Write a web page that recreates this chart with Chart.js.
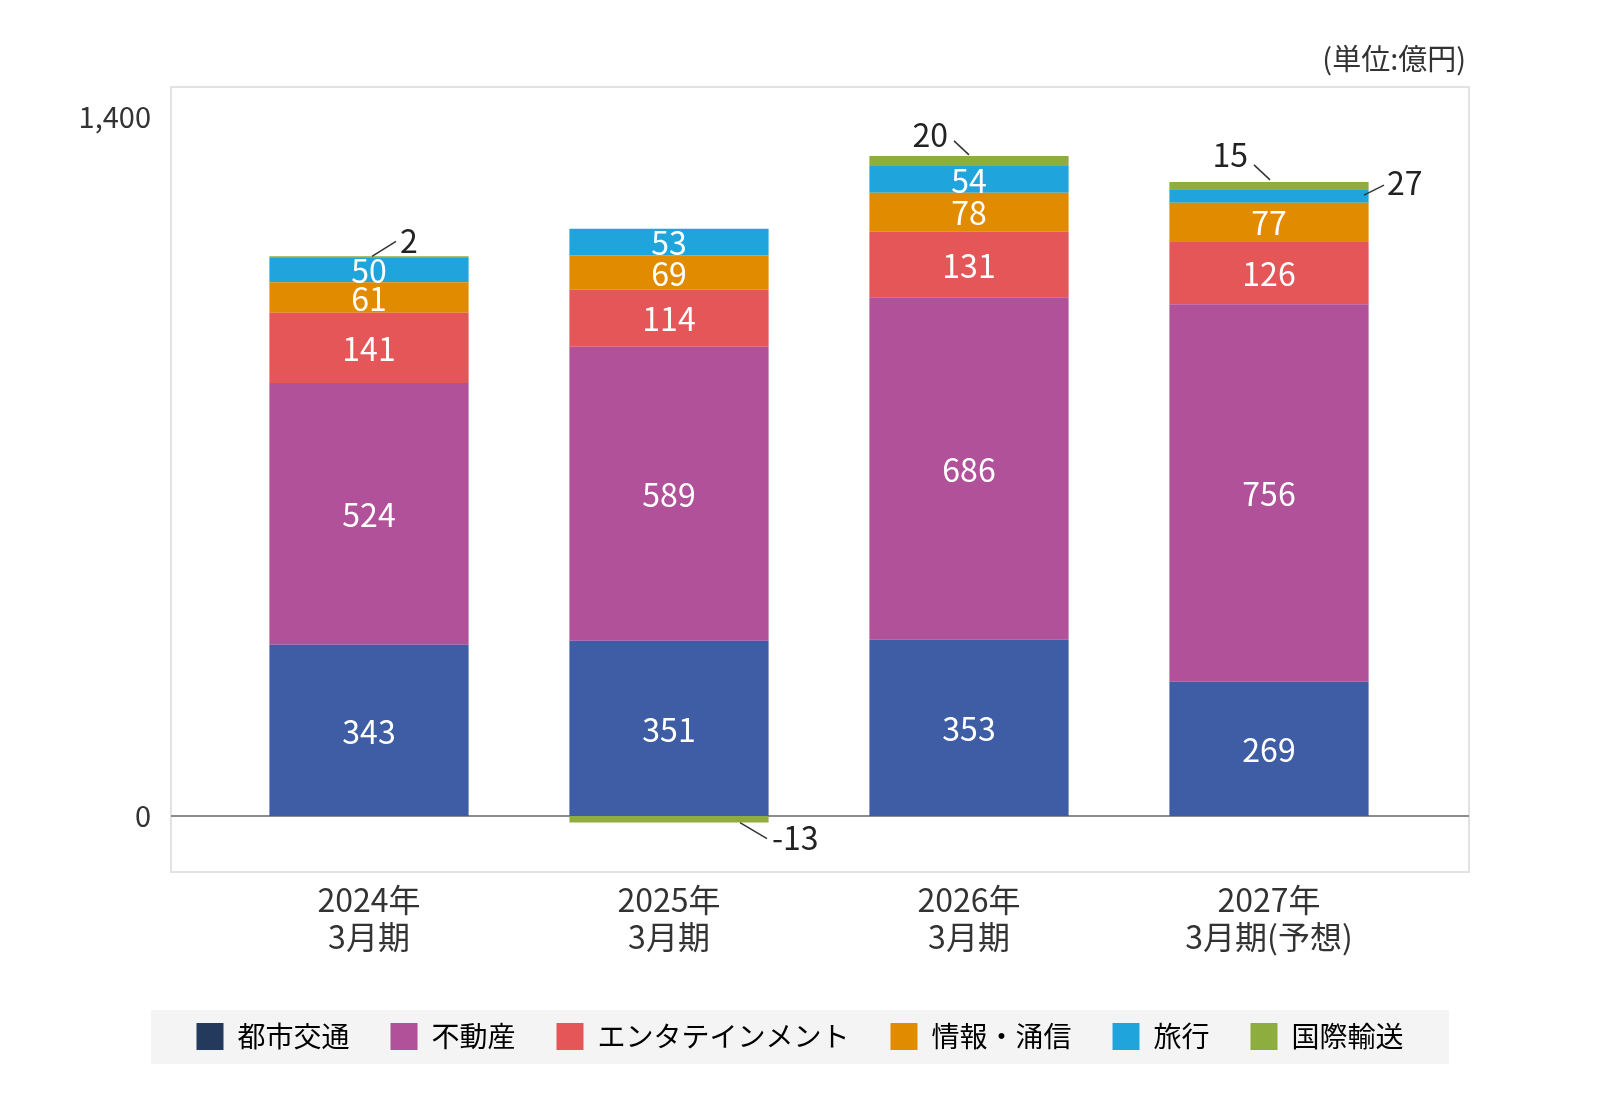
<!DOCTYPE html>
<html lang="ja">
<head>
<meta charset="utf-8">
<title>セグメント別営業利益</title>
<script src="https://cdn.jsdelivr.net/npm/chart.js@4/dist/chart.umd.min.js"></script>
<style>
  html, body { margin: 0; padding: 0; background: #fff; }
  #wrap { width: 1600px; height: 1114px; position: relative; }
</style>
</head>
<body>
<div id="wrap"><canvas id="chart"></canvas></div>
<script>
const FONT = '"Noto Sans CJK JP", "Noto Sans", sans-serif';

// ---------- Data ----------
const categories = [["2024年", "3月期"], ["2025年", "3月期"], ["2026年", "3月期"], ["2027年", "3月期(予想)"]];
const segmentNames = ["都市交通", "不動産", "エンタテインメント", "情報・涌信", "旅行", "国際輸送"];
const toshiKotsu = [343, 351, 353, 269];
const fudosan = [524, 589, 686, 756];
const entertainment = [141, 114, 131, 126];
const johoTsushin = [61, 69, 78, 77];
const ryoko = [50, 53, 54, 27];
const kokusaiYuso = [2, -13, 20, 15];
const yTicks = [0, 1400];
const unitLabel = "(単位:億円)";

// ---------- Styles ----------
const barColors = ["#3e5da5", "#b05199", "#e45657", "#e08b00", "#1fa5dc", "#8dad3f"];
const legendColors = ["#233a5c", "#b05199", "#e45657", "#e08b00", "#1fa5dc", "#8dad3f"];
const textColor = "#333333";

// labels placed outside the bar, with a leader line (offsets in px from the segment anchor)
const callouts = [
  { ds: 5, i: 0, anchor: "top", line: [3, 0, 27, -15], text: [31, -15, "left"] },
  { ds: 5, i: 1, anchor: "bottom", line: [71, 0, 98, 16], text: [103, 15, "left"] },
  { ds: 5, i: 2, anchor: "top", line: [-15, -15, 0, -1], text: [-21, -21, "right"] },
  { ds: 5, i: 3, anchor: "top", line: [-15, -17, 1, -2], text: [-21, -27, "right"] },
  { ds: 4, i: 3, anchor: "mid", line: [95, -1, 115, -11], text: [118, -13, "left"] },
];

const seriesData = [toshiKotsu, fudosan, entertainment, johoTsushin, ryoko, kokusaiYuso];

// ---------- Plugins ----------
const backdrop = {
  id: "backdrop",
  beforeDraw(chart) {
    const { ctx, chartArea: a } = chart;
    const lg = chart.legend;
    ctx.save();
    ctx.fillStyle = "#f4f4f4";
    ctx.fillRect(a.left - 68, lg.top + 28.5, a.right - a.left + 98, 54);
    ctx.restore();
  },
  beforeDatasetsDraw(chart) {
    const { ctx, chartArea: a, scales } = chart;
    const left = a.left - 48, right = a.right + 50;
    ctx.save();
    ctx.strokeStyle = "#e2e2e2";
    ctx.lineWidth = 2;
    ctx.strokeRect(left, a.top, right - left, a.bottom - a.top);
    const y0 = Math.round(scales.y.getPixelForValue(0));
    ctx.strokeStyle = "#8c8c8c";
    ctx.beginPath();
    ctx.moveTo(left, y0);
    ctx.lineTo(right, y0);
    ctx.stroke();
    ctx.fillStyle = textColor;
    ctx.font = `29px ${FONT}`;
    ctx.textAlign = "right";
    ctx.textBaseline = "middle";
    ctx.fillText(unitLabel, a.right + 47, a.top - 28);
    ctx.restore();
  },
};

const valueLabels = {
  id: "valueLabels",
  afterDatasetsDraw(chart) {
    const ctx = chart.ctx;
    ctx.save();
    ctx.font = `32px ${FONT}`;
    ctx.textBaseline = "middle";
    chart.data.datasets.forEach((ds, di) => {
      chart.getDatasetMeta(di).data.forEach((bar, i) => {
        const v = ds.data[i];
        const top = Math.min(bar.y, bar.base);
        const bottom = Math.max(bar.y, bar.base);
        const co = callouts.find((c) => c.ds === di && c.i === i);
        if (!co) {
          ctx.fillStyle = "#ffffff";
          ctx.textAlign = "center";
          ctx.fillText(String(v), bar.x, (top + bottom) / 2 + 1);
          return;
        }
        const ay = co.anchor === "top" ? top : co.anchor === "bottom" ? bottom : (top + bottom) / 2;
        ctx.strokeStyle = "#333";
        ctx.lineWidth = 1.5;
        ctx.beginPath();
        ctx.moveTo(bar.x + co.line[0], ay + co.line[1]);
        ctx.lineTo(bar.x + co.line[2], ay + co.line[3]);
        ctx.stroke();
        ctx.fillStyle = "#222";
        ctx.textAlign = co.text[2];
        ctx.fillText(String(v), bar.x + co.text[0], ay + co.text[1]);
      });
    });
    ctx.restore();
  },
};

// ---------- Chart ----------
new Chart(document.getElementById("chart"), {
  type: "bar",
  data: {
    labels: categories,
    datasets: segmentNames.map((name, k) => ({
      label: name,
      data: seriesData[k],
      backgroundColor: barColors[k],
      borderWidth: 0,
      categoryPercentage: 1,
      barPercentage: 0.664,
    })),
  },
  options: {
    responsive: true,
    maintainAspectRatio: false,
    animation: false,
    layout: { padding: { top: 87, left: 0, right: 0, bottom: 53.5 } },
    plugins: {
      tooltip: { enabled: false },
      legend: {
        position: "bottom",
        labels: {
          color: textColor,
          font: { family: FONT, size: 28 },
          boxWidth: 27,
          boxHeight: 27,
          padding: 41,
          generateLabels: (chart) =>
            chart.data.datasets.map((ds, k) => ({
              text: ds.label,
              fillStyle: legendColors[k],
              strokeStyle: legendColors[k],
              lineWidth: 0,
              datasetIndex: k,
            })),
        },
      },
    },
    scales: {
      x: {
        stacked: true,
        grid: { display: false, drawTicks: false },
        border: { display: false },
        ticks: { color: textColor, font: { family: FONT, size: 32, lineHeight: 1.14 }, padding: 10, maxRotation: 0 },
        afterFit: (s) => { s.height = 109.5; },
      },
      y: {
        stacked: true,
        min: -112,
        max: 1460,
        grid: { display: false, drawTicks: false },
        border: { display: false },
        afterBuildTicks: (s) => { s.ticks = yTicks.map((v) => ({ value: v })); },
        ticks: {
          color: textColor,
          font: { family: FONT, size: 29 },
          padding: 68,
          callback: (v) => v.toLocaleString("en-US"),
        },
        afterFit: (s) => { s.width = 219; },
      },
      yRight: {
        position: "right",
        min: 0,
        max: 1,
        grid: { display: false, drawTicks: false },
        border: { display: false },
        ticks: { display: false },
        afterFit: (s) => { s.width = 181; },
      },
    },
  },
  plugins: [backdrop, valueLabels],
});
</script>
</body>
</html>
